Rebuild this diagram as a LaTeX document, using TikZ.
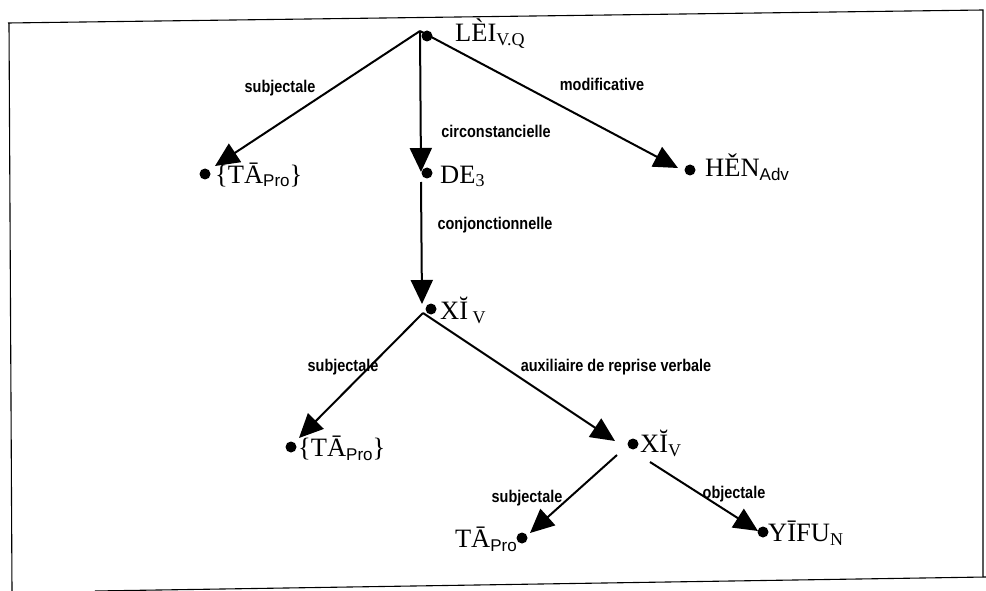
\documentclass[tikz,border=0pt]{standalone}
\usepackage{fontspec}
\setmainfont{Liberation Serif}
\newfontfamily\lblfont[FakeStretch=0.85]{Liberation Sans}
\newfontfamily\subfont{Liberation Sans}
\usetikzlibrary{arrows.meta}
\newcommand\sbs[1]{\raisebox{-4pt}{\fontsize{17}{18}\selectfont\subfont #1}}
\newcommand\sbr[1]{\raisebox{-4pt}{\fontsize{18}{19}\selectfont #1}}
\begin{document}
\begin{tikzpicture}[x=1pt,y=-1pt,
  dot/.style={circle,fill=black,inner sep=0pt,minimum size=11pt},
  word/.style={font=\fontsize{26.5}{28}\selectfont,inner sep=0pt,anchor=base west},
  rel/.style={font=\lblfont\bfseries\fontsize{17}{19}\selectfont,inner sep=0pt},
  arr/.style={line width=2pt,-{Triangle[length=24pt,width=22pt]}},
  frame/.style={line width=1.1pt}]
\useasboundingbox (0,0) rectangle (986,591);
% frame
\draw[frame] (8,23) -- (983,10) -- (983,577);
\draw[frame] (9,23) -- (12,591);
\draw[frame] (95,591) -- (986,577);

% top node
\coordinate (a1) at (420,31);
\node[dot] (lei) at (427,36) {};
\node[word] (leit) at (455,42) {LÈI\sbr{V.Q}};

% level 1
\node[dot] (ta1) at (205,174) {};
\node[word] (ta1t) at (215,183) {\{TĀ\sbs{Pro}\}};
\coordinate (ta1e) at (215,166);

\node[dot] (de) at (427,173) {};
\node[word] (det) at (440,183) {DE\sbr{3}};
\coordinate (dee) at (421,172);

\node[dot] (hen) at (690,170) {};
\node[word] (hent) at (705,177) {HĚN\sbs{Adv}};
\coordinate (hene) at (678,168);

% level 2
\coordinate (des) at (421,182);
\node[dot] (xi1) at (431,309) {};
\node[word] (xi1t) at (440,319) {XĬ\,\sbr{V}};
\coordinate (xi1e) at (422,304);
\coordinate (a2) at (423,313);

% level 3
\node[dot] (ta2) at (291,447) {};
\node[word] (ta2t) at (298,456) {\{TĀ\sbs{Pro}\}};
\coordinate (ta2e) at (299,438);

\node[dot] (xi2) at (633,444) {};
\node[word] (xi2t) at (640,452) {XĬ\sbr{V}};
\coordinate (xi2e) at (615,441);

% level 4
\coordinate (a3l) at (617,455);
\coordinate (a3r) at (650,462);
\node[dot] (ta3) at (522,538) {};
\node[word,anchor=base east] (ta3t) at (517,547) {TĀ\sbs{Pro}};
\coordinate (ta3e) at (530,533);

\node[dot] (yi) at (763,532) {};
\node[word] (yit) at (768,541) {YĪFU\sbr{N}};
\coordinate (yie) at (758,531);

% arrows
\draw[arr] (a1) -- (ta1e);
\draw[arr] (a1) -- (dee);
\draw[arr] (a1) -- (hene);
\draw[arr] (des) -- (xi1e);
\draw[arr] (a2) -- (ta2e);
\draw[arr] (a2) -- (xi2e);
\draw[arr] (a3l) -- (ta3e);
\draw[arr] (a3r) -- (yie);

% relation labels
\node[rel] (r1) at (280,88) {subjectale};
\node[rel] (r2) at (496,131) {circonstancielle};
\node[rel] (r3) at (602,84) {modificative};
\node[rel] (r4) at (495,225) {conjonctionnelle};
\node[rel] (r5) at (343,367) {subjectale};
\node[rel] (r6) at (616,367) {auxiliaire de reprise verbale};
\node[rel] (r7) at (527,498) {subjectale};
\node[rel] (r8) at (734,494) {objectale};
\end{tikzpicture}
\end{document}
